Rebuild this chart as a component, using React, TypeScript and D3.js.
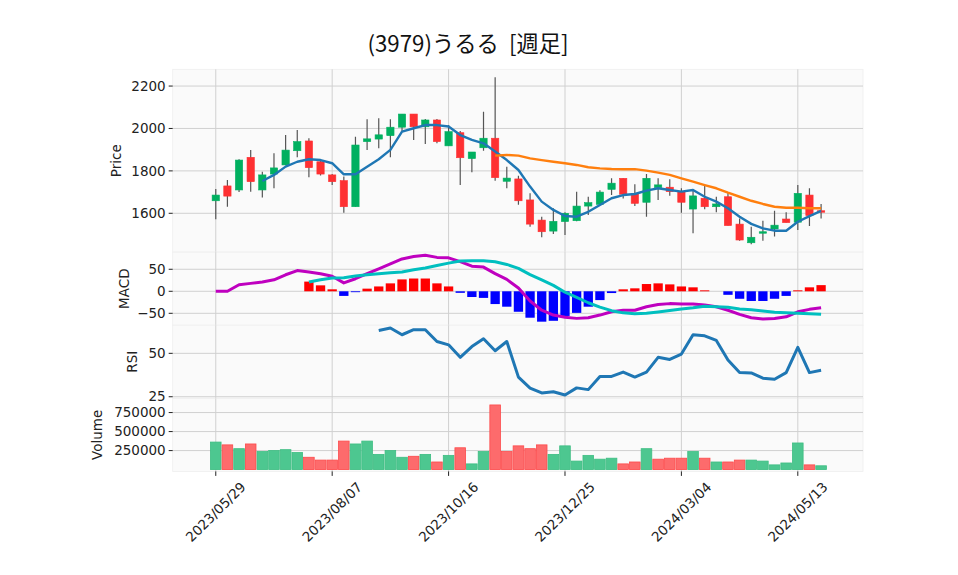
import React from "react";
import * as d3 from "d3";

// weekly bars, 2023/05/29 .. 2024/05/27
const opens = [1659, 1729, 1710, 1864, 1710, 1785, 1828, 1895, 1941, 1843, 1781, 1754, 1631, 1938, 1950, 1966, 2006, 2068, 2008, 2040, 1918, 1980, 1858, 1909, 1954, 1751, 1762, 1663, 1568, 1516, 1561, 1565, 1634, 1642, 1713, 1765, 1694, 1652, 1721, 1723, 1702, 1620, 1671, 1631, 1678, 1549, 1461, 1506, 1526, 1573, 1558, 1686, 1612];
const highs = [1715, 1757, 1855, 1899, 1796, 1883, 1969, 1993, 1954, 1853, 1785, 1773, 1961, 2043, 2048, 2043, 2068, 2068, 2045, 2045, 2016, 1988, 1889, 2079, 2242, 1820, 1777, 1694, 1584, 1624, 1605, 1702, 1678, 1709, 1765, 1765, 1737, 1785, 1765, 1760, 1718, 1710, 1729, 1678, 1700, 1576, 1537, 1565, 1612, 1605, 1734, 1718, 1644];
const lows = [1572, 1631, 1700, 1702, 1674, 1718, 1826, 1864, 1770, 1778, 1733, 1603, 1631, 1899, 1907, 1864, 1985, 1946, 1927, 1930, 1918, 1733, 1793, 1895, 1754, 1718, 1640, 1537, 1487, 1502, 1498, 1562, 1592, 1640, 1686, 1670, 1634, 1584, 1663, 1683, 1603, 1506, 1619, 1605, 1542, 1470, 1454, 1471, 1490, 1556, 1521, 1540, 1576];
const closes = [1686, 1681, 1851, 1749, 1781, 1814, 1898, 1938, 1815, 1785, 1749, 1631, 1922, 1951, 1970, 2006, 2068, 2008, 2040, 1938, 1985, 1862, 1889, 1954, 1768, 1766, 1659, 1549, 1513, 1562, 1600, 1634, 1650, 1700, 1742, 1690, 1647, 1765, 1734, 1702, 1652, 1682, 1631, 1644, 1542, 1474, 1487, 1513, 1544, 1556, 1694, 1589, 1605];
const volumes = [362000, 325000, 275000, 337000, 237000, 250000, 262000, 225000, 162000, 125000, 125000, 375000, 337000, 375000, 200000, 250000, 162000, 175000, 200000, 100000, 187000, 287000, 75000, 237000, 850000, 237000, 312000, 275000, 325000, 200000, 312000, 112000, 187000, 137000, 150000, 75000, 100000, 275000, 137000, 150000, 150000, 237000, 150000, 100000, 100000, 125000, 125000, 112000, 62000, 87000, 350000, 62000, 50000];

// moving averages (start index = first week drawn)
const ma5Start = 4;
const ma5 = [1752, 1781, 1820, 1843, 1855, 1851, 1836, 1784, 1784, 1820, 1855, 1899, 1985, 2001, 2016, 2016, 2009, 1969, 1946, 1930, 1891, 1851, 1804, 1726, 1655, 1616, 1587, 1584, 1607, 1639, 1671, 1686, 1691, 1707, 1718, 1710, 1702, 1710, 1678, 1655, 1624, 1584, 1550, 1529, 1518, 1518, 1560, 1587, 1611];
const ma25Start = 24;
const ma25 = [1872, 1875, 1872, 1859, 1851, 1843, 1836, 1828, 1817, 1812, 1809, 1808, 1808, 1801, 1792, 1781, 1765, 1749, 1733, 1718, 1697, 1678, 1659, 1644, 1631, 1626, 1626, 1624, 1624];

// MACD panel
const macdLine = [0, 0, 15, 18, 21, 26, 37.5, 47, 44, 40, 34, 19, 28.5, 40, 51, 62, 73.5, 79, 82, 77, 76, 67.5, 57, 55, 40, 27, 7.5, -22, -43, -54, -59, -61.5, -60, -54, -46.5, -43, -43, -35, -30, -28, -29, -29, -31, -35, -43, -52.5, -60, -63, -62, -58, -46.5, -41, -37.5];
const signalStart = 8;
const signalLine = [21, 26, 30, 31, 34.5, 37.5, 40, 42, 44, 49, 53, 58.5, 64, 69, 69.5, 69.5, 67, 61, 52, 38, 26, 13.5, -2, -14, -26, -36, -44, -49, -51, -50, -47, -43.5, -40, -37.5, -34, -35, -36, -40, -42, -45, -47.5, -49, -50, -51, -52];
const histStart = 8;
const macdHist = [22, 13.5, 4.5, -10.5, -2, 6, 11, 18, 27, 29, 29, 18, 11, -3.5, -13, -15, -29, -35, -46.5, -60, -69, -67, -56, -49, -35, -20, -4, 4.5, 6.7, 16.5, 18, 15.7, 11, 9, 2.2, 0, -8, -17, -22, -22, -17, -10.5, 2.2, 9, 14];

// RSI panel
const rsiStart = 14;
const rsi = [63.2, 64.6, 60.7, 63.6, 63.6, 56.8, 54.9, 47.7, 53.9, 58.4, 51.5, 56.8, 36.3, 30, 27.2, 27.9, 26, 30.1, 29.1, 36.7, 36.7, 39.2, 36.3, 39.2, 47.7, 46.5, 49.6, 60.7, 60.1, 57.4, 46.1, 38.9, 38.7, 35.7, 35.1, 38.9, 53.5, 38.9, 40.2];

const tickIndex = [0, 10, 20, 30, 40, 50];
const tickLabels = ["2023/05/29", "2023/08/07", "2023/10/16", "2023/12/25", "2024/03/04", "2024/05/13"];
const priceTicks = [1600, 1800, 2000, 2200];
const macdTicks = [-50, 0, 50];
const rsiTicks = [25, 50];
const volTicks = [250000, 500000, 750000];

const W = 958;
const H = 575;
const L = 172.7;
const R = 863;
const UP = "#00b060";
const DOWN = "#fe3032";
const font = "'DejaVu Sans', sans-serif";
const fs = 13.5;

const panels = {
  price: [69.3, 252.1],
  macd: [252.1, 325.2],
  rsi: [325.2, 398.3],
  vol: [398.3, 471.4],
};

export default function App() {
  const x = d3.scaleLinear().domain([-3.7, 55.6]).range([L, R]);
  const yP = d3.scaleLinear().domain([1417, 2279]).range([panels.price[1], panels.price[0]]);
  const yM = d3.scaleLinear().domain([-77, 89]).range([panels.macd[1], panels.macd[0]]);
  const yR = d3.scaleLinear().domain([24.1, 66.2]).range([panels.rsi[1], panels.rsi[0]]);
  const yV = d3.scaleLinear().domain([-23750, 937500]).range([panels.vol[1], panels.vol[0]]);

  const mkLine = (y: any, start: number) =>
    d3.line<number>().x((_, i) => x(i + start)).y((d) => y(d));

  const panelFrame = (key: string, y: any, ticks: number[], label: string, labelX: number) => {
    const [t, b] = (panels as any)[key];
    return (
      <g key={key}>
        <rect x={L} y={t} width={R - L} height={b - t} fill="#fafafa" stroke="#eeeeee" strokeWidth={0.8} />
        {ticks.map((v) => (
          <g key={v}>
            <line x1={L} x2={R} y1={y(v)} y2={y(v)} stroke="#d0d0d0" strokeWidth={1} />
            <line x1={L - 4} x2={L} y1={y(v)} y2={y(v)} stroke="#222" strokeWidth={1} />
            <text x={L - 7} y={y(v)} dy="0.35em" textAnchor="end" fontSize={fs} fill="#222" fontFamily={font}>
              {v < 0 ? "\u2212" + Math.abs(v) : v}
            </text>
          </g>
        ))}
        {tickIndex.map((i) => (
          <line key={"v" + i} x1={x(i)} x2={x(i)} y1={t} y2={b} stroke="#d0d0d0" strokeWidth={1} />
        ))}
        <text
          transform={`translate(${labelX},${(t + b) / 2}) rotate(-90)`}
          textAnchor="middle"
          dy="0.35em"
          fontSize={fs}
          fill="#222"
          fontFamily={font}
        >
          {label}
        </text>
      </g>
    );
  };

  const cw = 7.3;
  const vw = 10.6;
  const hw = 9.3;

  return (
    <svg width={W} height={H} style={{ position: "absolute", left: 0, top: 0 }}>
      <rect width={W} height={H} fill="#ffffff" />
      <defs>
        {Object.entries(panels).map(([k, [t, b]]) => (
          <clipPath id={"clip-" + k} key={k}>
            <rect x={L} y={t} width={R - L} height={b - t} />
          </clipPath>
        ))}
      </defs>
      <text
        x={468}
        y={44}
        dy="0.35em"
        textAnchor="middle"
        fontSize={22.3}
        fill="#111"
        fontFamily="'Noto Sans CJK JP', sans-serif"
        style={{ whiteSpace: "pre" }}
      >
        {"(3979)うるる  [週足]"}
      </text>

      {panelFrame("price", yP, priceTicks, "Price", 116)}
      {panelFrame("macd", yM, macdTicks, "MACD", 124)}
      {panelFrame("rsi", yR, rsiTicks, "RSI", 132)}
      {panelFrame("vol", yV, volTicks, "Volume", 97)}

      {/* candles */}
      <g clipPath="url(#clip-price)">
        {closes.map((c, i) => {
          const o = opens[i];
          const col = c >= o ? UP : DOWN;
          const top = yP(Math.max(o, c));
          const bot = yP(Math.min(o, c));
          return (
            <g key={i}>
              <line x1={x(i)} x2={x(i)} y1={yP(highs[i])} y2={yP(lows[i])} stroke="#555" strokeWidth={1.2} />
              <rect x={x(i) - cw / 2} y={top} width={cw} height={Math.max(bot - top, 1)} fill={col} stroke={col} strokeWidth={0.6} />
            </g>
          );
        })}
        <path d={mkLine(yP, ma5Start)(ma5) || ""} fill="none" stroke="#1f77b4" strokeWidth={2.4} strokeLinejoin="round" />
        <path d={mkLine(yP, ma25Start)(ma25) || ""} fill="none" stroke="#ff7f0e" strokeWidth={2.4} strokeLinejoin="round" />
      </g>

      {/* MACD */}
      <g clipPath="url(#clip-macd)">
        {macdHist.map((h, k) => {
          const i = k + histStart;
          const y0 = yM(0);
          const y1 = yM(h);
          return (
            <rect key={i} x={x(i) - hw / 2} y={Math.min(y0, y1)} width={hw} height={Math.abs(y1 - y0)} fill={h >= 0 ? "#ff0000" : "#0000ff"} />
          );
        })}
        <path d={mkLine(yM, 0)(macdLine) || ""} fill="none" stroke="#bf00bf" strokeWidth={3} strokeLinejoin="round" />
        <path d={mkLine(yM, signalStart)(signalLine) || ""} fill="none" stroke="#00bfbf" strokeWidth={3} strokeLinejoin="round" />
      </g>

      {/* RSI */}
      <g clipPath="url(#clip-rsi)">
        <path d={mkLine(yR, rsiStart)(rsi) || ""} fill="none" stroke="#1f77b4" strokeWidth={3} strokeLinejoin="round" />
      </g>

      {/* Volume */}
      <g clipPath="url(#clip-vol)">
        {volumes.map((v, i) => {
          const up = i === 0 || closes[i] >= closes[i - 1];
          return (
            <rect
              key={i}
              x={x(i) - vw / 2}
              y={yV(v)}
              width={vw}
              height={yV(0) - yV(v)}
              fill={up ? "#4dc790" : "#fd6b6c"}
              stroke={up ? "#3dbd82" : "#fd4a4b"}
              strokeWidth={0.8}
            />
          );
        })}
      </g>

      {/* x axis */}
      {tickIndex.map((i, k) => (
        <g key={i}>
          <line x1={x(i)} x2={x(i)} y1={panels.vol[1]} y2={panels.vol[1] + 4.5} stroke="#222" strokeWidth={1} />
          <text
            transform={`translate(${x(i)},${512}) rotate(-45)`}
            textAnchor="middle"
            dy="0.35em"
            fontSize={fs}
            fill="#222"
            fontFamily={font}
          >
            {tickLabels[k]}
          </text>
        </g>
      ))}
    </svg>
  );
}
